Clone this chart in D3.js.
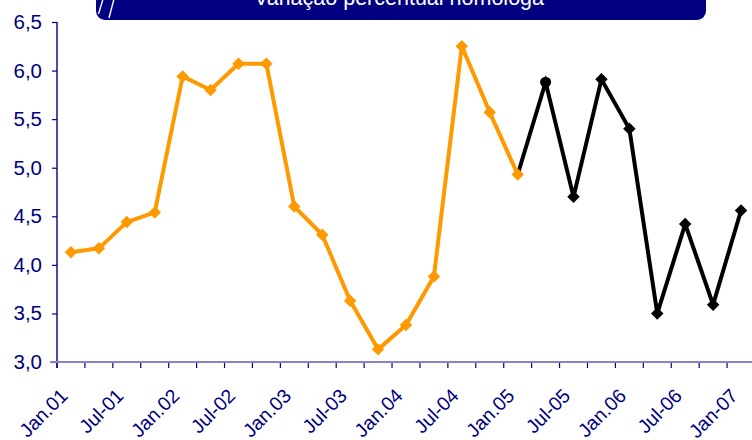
<!DOCTYPE html>
<html>
<head>
<meta charset="utf-8">
<script src="https://cdn.jsdelivr.net/npm/d3@7/dist/d3.min.js"></script>
<style>
  html, body { margin: 0; padding: 0; background: #ffffff; }
  svg { display: block; }
</style>
</head>
<body>
<svg id="chart" width="752" height="440"></svg>
<script>
// ---- data ----
const periods = [
  "Jan.01","Abr-01","Jul-01","Out-01","Jan.02","Abr-02","Jul-02","Out-02",
  "Jan.03","Abr-03","Jul-03","Out-03","Jan.04","Abr-04","Jul-04","Out-04",
  "Jan.05","Abr-05","Jul-05","Out-05","Jan.06","Abr-06","Jul-06","Out-06","Jan-07"
];
const tickLabels = ["Jan.01","Jul-01","Jan.02","Jul-02","Jan.03","Jul-03","Jan.04","Jul-04","Jan.05","Jul-05","Jan.06","Jul-06","Jan-07"];
const observed = [4.13, 4.17, 4.44, 4.54, 5.94, 5.80, 6.07, 6.07, 4.60, 4.31, 3.63, 3.13, 3.38, 3.88, 6.25, 5.57, 4.93];
const forecast = [null, null, null, null, null, null, null, null, null, null, null, null, null, null, null, null, 4.93, 5.88, 4.70, 5.91, 5.40, 3.50, 4.42, 3.59, 4.56];
const yTicks = [3.0, 3.5, 4.0, 4.5, 5.0, 5.5, 6.0, 6.5];
const titleText = "Variação percentual homóloga";

// ---- layout ----
const svg = d3.select("#chart");
const navy = "#000080";
const font = "'Liberation Sans', Arial, sans-serif";

const x = d3.scaleBand().domain(periods).range([57, 755]).padding(0);
const y = d3.scaleLinear().domain([3, 6.5]).range([362, 22]);
const cx = p => x(p) + x.bandwidth() / 2;

// title box
const tg = svg.append("g");
tg.append("rect").attr("x", 96).attr("y", -20).attr("width", 610).attr("height", 40)
  .attr("rx", 9).attr("fill", navy);
tg.append("line").attr("x1", 103).attr("y1", -1).attr("x2", 98.5).attr("y2", 14)
  .attr("stroke", "#fff").attr("stroke-width", 1.4);
tg.append("line").attr("x1", 114).attr("y1", -1).attr("x2", 109).attr("y2", 18)
  .attr("stroke", "#fff").attr("stroke-width", 1.4);
tg.append("text").attr("x", 399).attr("y", 5).attr("text-anchor", "middle")
  .attr("font-family", font).attr("font-size", 21.5).attr("fill", "#fff").text(titleText);

// y axis
const yAxis = d3.axisLeft(y).tickValues(yTicks).tickSize(5).tickSizeOuter(0).tickPadding(10)
  .tickFormat(d => d3.format(".1f")(d).replace(".", ","));
const yg = svg.append("g").attr("transform", "translate(57,0)").call(yAxis);
yg.select(".domain").remove();
yg.selectAll(".tick line").attr("stroke", navy).attr("stroke-width", 1.2);
yg.selectAll(".tick text").attr("font-family", font).attr("font-size", 20.5).attr("fill", navy);
svg.append("line").attr("x1", 57).attr("x2", 57).attr("y1", 22).attr("y2", 368)
  .attr("stroke", navy).attr("stroke-width", 1.4);

// x axis line
svg.append("line").attr("x1", 50).attr("x2", 752).attr("y1", 362).attr("y2", 362)
  .attr("stroke", "#8585c4").attr("stroke-width", 2.2);
// boundary ticks
const bounds = periods.map(p => x(p)).concat([x.range()[1]]);
svg.append("g").selectAll("line").data(bounds).join("line")
  .attr("x1", d => d).attr("x2", d => d).attr("y1", 363).attr("y2", 368)
  .attr("stroke", navy).attr("stroke-width", 1.2);

// x labels
const labelPeriods = periods.filter(p => tickLabels.includes(p));
svg.append("g").selectAll("text").data(labelPeriods).join("text")
  .attr("transform", p => `translate(${cx(p) - 2},${397}) rotate(-45)`)
  .attr("text-anchor", "end")
  .attr("font-family", font).attr("font-size", 19.5).attr("fill", navy)
  .text(p => p);

// lines
const line = d3.line().defined(d => d.v != null).x(d => cx(d.p)).y(d => y(d.v));
const obsData = observed.map((v, i) => ({ p: periods[i], v }));
const fcData = forecast.map((v, i) => ({ p: periods[i], v }));

svg.append("path").datum(fcData).attr("d", line).attr("fill", "none")
  .attr("stroke", "#000").attr("stroke-width", 4).attr("stroke-linejoin", "miter");
svg.append("path").datum(obsData).attr("d", line).attr("fill", "none")
  .attr("stroke", "#FF9900").attr("stroke-width", 4).attr("stroke-linejoin", "round");

const diamond = d3.symbol(d3.symbolSquare, 78);
// forecast markers (skip the shared first point)
const fcMarks = fcData.filter((d, i) => d.v != null && i > 16);
svg.append("g").selectAll("path").data(fcMarks.filter((d, i) => i !== 0)).join("path")
  .attr("d", diamond).attr("fill", "#000")
  .attr("transform", d => `translate(${cx(d.p)},${y(d.v)}) rotate(45)`);
svg.append("circle").attr("cx", cx(fcMarks[0].p)).attr("cy", y(fcMarks[0].v)).attr("r", 5.5).attr("fill", "#000");

svg.append("g").selectAll("path").data(obsData).join("path")
  .attr("d", diamond).attr("fill", "#FF9900")
  .attr("transform", d => `translate(${cx(d.p)},${y(d.v)}) rotate(45)`);
</script>
</body>
</html>
